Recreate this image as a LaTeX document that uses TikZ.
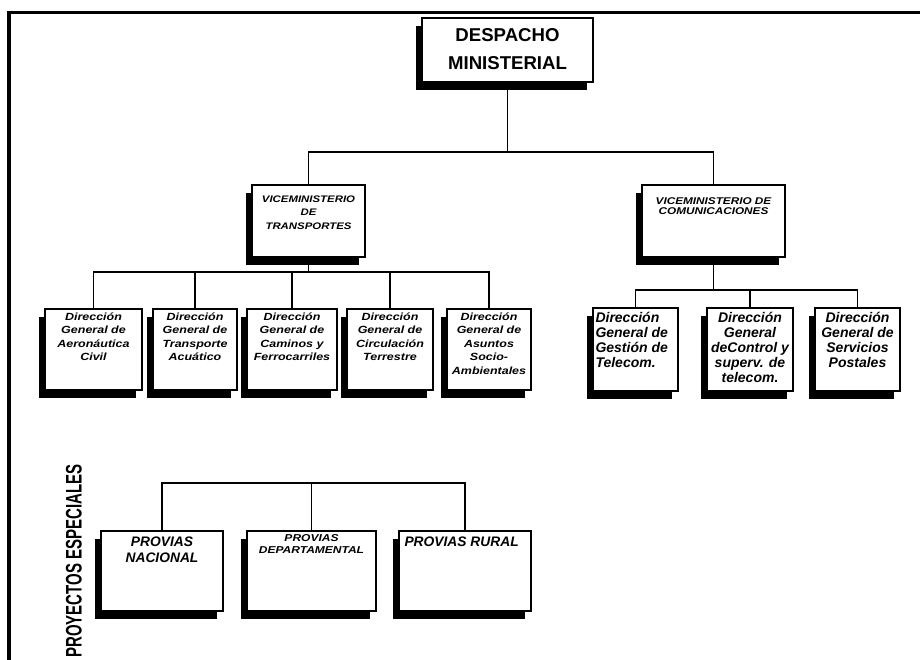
\documentclass[tikz,border=0pt]{standalone}
\usepackage{fontspec}
\usepackage{graphicx}
\setmainfont{Liberation Sans}
\newfontfamily\widefont[FakeStretch=1.2]{Liberation Sans}
\usetikzlibrary{shadows}

\begin{document}
\begin{tikzpicture}[x=1pt,y=-1pt,
  orgbox/.style={draw=black, line width=1.4pt, fill=white, rectangle, inner sep=0pt,
    drop shadow={shadow xshift=-6pt, shadow yshift=-8pt, opacity=1, fill=black}},
  link/.style={draw=black, line width=1.2pt},
  headtxt/.style={font=\bfseries\fontsize{18.6}{28}\selectfont, align=center, inner sep=0pt, anchor=north},
  vicetxt/.style={font=\widefont\bfseries\itshape\fontsize{9.5}{13.5}\selectfont, align=center, inner sep=0pt, anchor=north},
  smalltxt/.style={font=\widefont\bfseries\itshape\fontsize{10.4}{13.5}\selectfont, align=center, inner sep=0pt, anchor=north},
  commtxt/.style={font=\bfseries\itshape\fontsize{14}{15}\selectfont, inner sep=0pt},
  projtxt/.style={font=\bfseries\itshape\fontsize{13.8}{16}\selectfont, inner sep=0pt},
]
\useasboundingbox (0,0) rectangle (920,660);

% page frame
\draw[line width=4pt] (9,670) -- (9,11);
\draw[line width=3pt] (7,13) -- (930,13);

% top level
\node[orgbox, minimum width=171pt, minimum height=64pt] (desp) at (507.5,50) {};
\node[headtxt] (despT) at ([yshift=-11pt]desp.north) {DESPACHO\\MINISTERIAL};

% vice-ministries
\node[orgbox, minimum width=113pt, minimum height=72pt] (vt) at (308.5,221) {};
\node[vicetxt] (vtT) at ([yshift=-11pt]vt.north) {VICEMINISTERIO\\DE\\TRANSPORTES};
\node[orgbox, minimum width=143pt, minimum height=72pt] (vc) at (713.5,221) {};
\node[vicetxt, font=\widefont\bfseries\itshape\fontsize{9.8}{10.5}\selectfont] (vcT) at ([yshift=-13pt]vc.north) {VICEMINISTERIO DE\\COMUNICACIONES};

% transport directorates
\node[orgbox, minimum width=97pt, minimum height=81pt] (t1) at (93.5,349.5) {};
\node[orgbox, minimum width=84pt, minimum height=81pt] (t2) at (195,349.5) {};
\node[orgbox, minimum width=90pt, minimum height=81pt] (t3) at (292,349.5) {};
\node[orgbox, minimum width=86pt, minimum height=81pt] (t4) at (390,349.5) {};
\node[orgbox, minimum width=84pt, minimum height=81pt] (t5) at (489,349.5) {};
\node[smalltxt] (t1T) at ([yshift=-4pt]t1.north) {Dirección\\General de\\Aeronáutica\\Civil};
\node[smalltxt] (t2T) at ([yshift=-4pt]t2.north) {Dirección\\General de\\Transporte\\Acuático};
\node[smalltxt] (t3T) at ([yshift=-4pt]t3.north) {Dirección\\General de\\Caminos y\\Ferrocarriles};
\node[smalltxt] (t4T) at ([yshift=-4pt]t4.north) {Dirección\\General de\\Circulación\\Terrestre};
\node[smalltxt] (t5T) at ([yshift=-4pt]t5.north) {Dirección\\General de\\Asuntos\\Socio-\\Ambientales};

% communications directorates
\node[orgbox, minimum width=85pt, minimum height=83pt] (c1) at (635.5,349.5) {};
\node[orgbox, minimum width=86pt, minimum height=83pt] (c2) at (750,349.5) {};
\node[orgbox, minimum width=85pt, minimum height=83pt] (c3) at (857.5,349.5) {};
\node[commtxt, align=left, anchor=north west] (c1T) at ([xshift=3pt,yshift=-5pt]c1.north west) {Dirección\\General de\\Gestión de\\Telecom.};
\node[commtxt, align=center, anchor=north] (c2T) at ([yshift=-5pt]c2.north) {Dirección\\General\\deControl y\\superv. de\\telecom.};
\node[commtxt, align=center, anchor=north] (c3T) at ([yshift=-5pt]c3.north) {Dirección\\General de\\Servicios\\Postales};

% special projects
\node[rotate=90, inner sep=0pt, font=\bfseries\fontsize{15}{15}\selectfont] (pe) at (74,561) {\scalebox{1}[1.5]{PROYECTOS ESPECIALES}};
\node[orgbox, minimum width=122pt, minimum height=80pt] (p1) at (162,571) {};
\node[orgbox, minimum width=129pt, minimum height=80pt] (p2) at (311.5,571) {};
\node[orgbox, minimum width=132pt, minimum height=80pt] (p3) at (465,571) {};
\node[projtxt, align=center, anchor=north] (p1T) at ([yshift=-6pt]p1.north) {PROVIAS\\NACIONAL};
\node[smalltxt, font=\widefont\bfseries\itshape\fontsize{10}{12}\selectfont] (p2T) at ([yshift=-4pt]p2.north) {PROVIAS\\DEPARTAMENTAL};
\node[projtxt, align=left, anchor=north west] (p3T) at ([xshift=6pt,yshift=-6pt]p3.north west) {PROVIAS RURAL};

% bus levels
\coordinate (busTop) at (0,152);
\coordinate (busT) at (0,272);
\coordinate (busC) at (0,290);
\coordinate (busP) at (0,483);

% connectors
\draw[link] (desp.south) -- (desp.south |- busTop);
\draw[link] (vt.north) |- (vc.north |- busTop) -- (vc.north);

\draw[link] (vt.south) -- (vt.south |- busT);
\draw[link] (t1.north) |- (t5.north |- busT) -- (t5.north);
\draw[link] (t2.north) -- (t2.north |- busT);
\draw[link] (t3.north) -- (t3.north |- busT);
\draw[link] (t4.north) -- (t4.north |- busT);

\draw[link] (vc.south) -- (vc.south |- busC);
\draw[link] (c1.north) |- (c3.north |- busC) -- (c3.north);
\draw[link] (c2.north) -- (c2.north |- busC);

\draw[link] (p1.north) |- (p3.north |- busP) -- (p3.north);
\draw[link] (p2.north) -- (p2.north |- busP);
\end{tikzpicture}
\end{document}
